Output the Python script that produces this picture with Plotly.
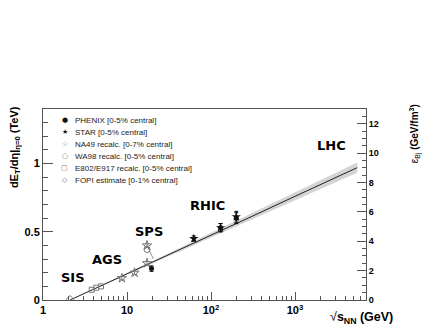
import math
import plotly.graph_objects as go

# data
phenix_x = [19.6, 130, 200]
phenix_y = [0.23, 0.53, 0.60]
phenix_err = [0.02, 0.03, 0.04]

star_x = [62.4, 130, 200]
star_y = [0.45, 0.53, 0.61]
star_err = [0.02, 0.03, 0.04]

na49_x = [8.7, 12.3, 17.3, 17.3]
na49_y = [0.16, 0.20, 0.27, 0.40]

wa98_x = [17.3]
wa98_y = [0.37]

e802_x = [3.8, 4.3, 4.9]
e802_y = [0.075, 0.09, 0.10]

fopi_x = [2.1]
fopi_y = [0.005]

fit_x = [2.1, 10, 30, 100, 300, 1000, 3000, 5500]
fit_y = [0.0, 0.19, 0.325, 0.475, 0.61, 0.76, 0.895, 0.97]
band_lo = [0.0, 0.184, 0.313, 0.457, 0.586, 0.731, 0.861, 0.933]
band_hi = [0.0, 0.196, 0.337, 0.493, 0.634, 0.789, 0.929, 1.007]

legend_labels = ["PHENIX [0-5% central]", "STAR [0-5% central]", "NA49 recalc. [0-7% central]",
                 "WA98 recalc. [0-5% central]", "E802/E917 recalc. [0-5% central]",
                 "FOPI estimate [0-1% central]"]
legend_glyphs = ["\u25cf", "\u2605", "\u2606", "\u25cb", "\u25a1", "\u25c7"]
legend_colors = ["#111111", "#111111", "#777777", "#777777", "#777777", "#777777"]

regions = ["SIS", "AGS", "SPS", "RHIC", "LHC"]
region_x = [2.3, 5.8, 18.3, 92, 2700]
region_y = [0.165, 0.30, 0.50, 0.69, 1.13]

FONT = "Liberation Sans, Arial, sans-serif"
BOLD = "DejaVu Sans, sans-serif"
AX = "#555555"

fig = go.Figure()

fig.add_trace(go.Scatter(x=fit_x, y=band_hi, mode="lines", line=dict(width=0), hoverinfo="skip"))
fig.add_trace(go.Scatter(x=fit_x, y=band_lo, mode="lines", line=dict(width=0), fill="tonexty",
                         fillcolor="#d4d4d4", hoverinfo="skip"))
fig.add_trace(go.Scatter(x=fit_x, y=fit_y, mode="lines", line=dict(color="#222222", width=1)))

fig.add_trace(go.Scatter(x=fopi_x, y=fopi_y, mode="markers",
                         marker=dict(symbol="diamond-open", size=6, color="#777777", line=dict(width=1))))
fig.add_trace(go.Scatter(x=e802_x, y=e802_y, mode="markers",
                         marker=dict(symbol="square-open", size=5, color="#777777", line=dict(width=1))))
fig.add_trace(go.Scatter(x=na49_x, y=na49_y, mode="markers",
                         error_y=dict(type="constant", value=0.012, color="#777777", thickness=1, width=2),
                         marker=dict(symbol="star-open", size=7, color="#777777", line=dict(width=1))))
fig.add_trace(go.Scatter(x=wa98_x, y=wa98_y, mode="markers",
                         marker=dict(symbol="circle-open", size=6, color="#777777", line=dict(width=1))))
fig.add_trace(go.Scatter(x=star_x, y=star_y, mode="markers",
                         error_y=dict(type="data", array=star_err, color="#111111", thickness=1, width=2),
                         marker=dict(symbol="star", size=7, color="#111111")))
fig.add_trace(go.Scatter(x=phenix_x, y=phenix_y, mode="markers",
                         error_y=dict(type="data", array=phenix_err, color="#111111", thickness=1, width=2),
                         marker=dict(symbol="circle", size=5, color="#111111")))

# second axis for energy density (only scale)
fig.add_trace(go.Scatter(x=[1], y=[0], yaxis="y2", mode="markers", marker=dict(opacity=0),
                         hoverinfo="skip"))

ann = []
for i, (g, t, c) in enumerate(zip(legend_glyphs, legend_labels, legend_colors)):
    yy = 0.942 - i * 0.063
    ann.append(dict(x=0.068, y=yy, xref="paper", yref="paper", text=g, showarrow=False,
                    xanchor="center", yanchor="middle",
                    font=dict(family="DejaVu Sans", size=7, color=c)))
    ann.append(dict(x=0.094, y=yy, xref="paper", yref="paper", text=t, showarrow=False,
                    xanchor="left", yanchor="middle",
                    font=dict(family=FONT, size=8, color="#222222")))

for r, rx, ry in zip(regions, region_x, region_y):
    ann.append(dict(x=math.log10(rx), y=ry, xref="x", yref="y", text="<b>%s</b>" % r, showarrow=False,
                    font=dict(family=BOLD, size=13, color="black")))

# SPS connector
ann.append(dict(x=math.log10(na49_x[3]), y=na49_y[3], xref="x", yref="y", axref="x", ayref="y",
                ax=math.log10(21), ay=0.29, text="", showarrow=True, arrowhead=0,
                arrowwidth=0.8, arrowcolor="#777777"))

ann.append(dict(x=-0.087, y=0.80, xref="paper", yref="paper", textangle=-90, showarrow=False,
                xanchor="center", yanchor="middle",
                text="<b>dE<sub>T</sub>/d\u03b7|<sub>\u03b7=0</sub> (TeV)</b>",
                font=dict(family=FONT, size=11, color="black")))
ann.append(dict(x=1.15, y=0.87, xref="paper", yref="paper", textangle=-90, showarrow=False,
                xanchor="center", yanchor="middle",
                text="\u03b5<sub>Bj</sub> <b>(GeV/fm<sup>3</sup>)</b>",
                font=dict(family=FONT, size=10, color="black")))
ann.append(dict(x=0.985, y=-0.095, xref="paper", yref="paper", showarrow=False,
                xanchor="center", yanchor="middle",
                text="\u221a<b>s<sub>NN</sub> (GeV)</b>",
                font=dict(family=FONT, size=12.5, color="black")))

minor_x = [m * 10 ** d for d in range(4) for m in range(2, 10)]

# the page body adds 8px, so margins are shifted to compensate
fig.update_layout(
    width=436, height=327,
    margin=dict(l=35, r=78, t=101, b=35),
    paper_bgcolor="white", plot_bgcolor="white",
    showlegend=False,
    annotations=ann,
    xaxis=dict(type="log", range=[0, 3.845], showgrid=False, zeroline=False, automargin=False,
               showline=True, linecolor=AX, linewidth=1, mirror=True,
               ticks="inside", ticklen=8, tickcolor=AX,
               tickvals=[1, 10, 100, 1000], ticktext=["1", "10", "10<sup>2</sup>", "10<sup>3</sup>"],
               tickfont=dict(family=FONT, size=11, color="black", weight="bold"),
               minor=dict(tickvals=minor_x, ticks="inside", ticklen=4, tickcolor=AX)),
    yaxis=dict(range=[0, 1.4], showgrid=False, zeroline=False, automargin=False,
               showline=True, linecolor=AX, linewidth=1,
               ticks="inside", ticklen=10, tickcolor=AX,
               tickvals=[0, 0.5, 1], ticktext=["0", "0.5", "1"],
               tickfont=dict(family=FONT, size=11, color="black", weight="bold"),
               minor=dict(dtick=0.1, ticks="inside", ticklen=5, tickcolor=AX)),
    yaxis2=dict(range=[0, 13.0], overlaying="y", side="right", showgrid=False, zeroline=False,
                automargin=False, showline=True, linecolor=AX, linewidth=1,
                ticks="inside", ticklen=9, tickcolor=AX, dtick=2,
                tickfont=dict(family=FONT, size=9, color="black", weight="bold"),
                minor=dict(dtick=0.5, ticks="inside", ticklen=4, tickcolor=AX)),
)

fig.write_html("out.html")
